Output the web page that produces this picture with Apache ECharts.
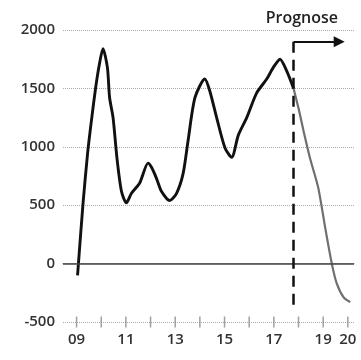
<!DOCTYPE html>
<html><head><meta charset="utf-8">
<script src="https://cdn.jsdelivr.net/npm/echarts@6/dist/echarts.min.js"></script>
<style>html,body{margin:0;padding:0;background:#fff}#c{width:361px;height:360px}</style>
</head><body><div id="c"></div>
<script>
// Year positions (x) and values (y)
const histX = [9.04, 9.26, 9.45, 9.6, 9.77, 9.92, 10.07, 10.25, 10.34, 10.48, 10.64, 10.82, 11.02, 11.22, 11.56, 11.9, 12.05, 12.24, 12.44, 12.78, 13.05, 13.32, 13.52, 13.8, 14.2, 14.4, 14.68, 15.02, 15.29, 15.56, 15.9, 16.3, 16.71, 16.98, 17.25, 17.52, 17.8];
const histY = [-100, 510, 950, 1220, 1500, 1700, 1840, 1680, 1420, 1250, 900, 620, 520, 600, 690, 860, 820, 730, 620, 540, 600, 770, 1050, 1420, 1580, 1480, 1250, 990, 910, 1100, 1250, 1460, 1580, 1680, 1750, 1650, 1500];
const forecastX = [17.8, 18.0, 18.2, 18.47, 18.8, 19.08, 19.35, 19.55, 19.83, 20.1];
const forecastY = [1500, 1330, 1140, 900, 650, 310, 0, -170, -290, -330];
const tickYears = [9, 10, 11, 12, 13, 14, 15, 16, 17, 18, 19, 20];
const labelYears = [9, 11, 13, 15, 17, 19, 20];
const forecastStart = 17.8;
const forecastLabel = 'Prognose';

const zip = (xs, ys) => xs.map((x, i) => [x, ys[i]]);
const font = 'Open Sans';
const chart = echarts.init(document.getElementById('c'), null, {renderer: 'canvas'});
chart.setOption({
  animation: false,
  backgroundColor: '#fff',
  title: {text: forecastLabel, right: 18, top: 5, textStyle: {fontFamily: font, fontSize: 16, fontWeight: 600, color: '#222'}},
  grid: {left: 63, right: 7, top: 30, bottom: 38, containLabel: false},
  xAxis: {
    type: 'value', min: 8.45, max: 20.25,
    axisLine: {show: true, lineStyle: {color: '#999', type: 'dotted', width: 1}},
    axisTick: {show: false},
    axisLabel: {customValues: labelYears, formatter: v => String(v).padStart(2, '0'), margin: 10, fontFamily: font, fontSize: 15, fontWeight: 600, color: '#333'},
    splitLine: {show: false}
  },
  yAxis: {
    type: 'value', min: -500, max: 2000, interval: 500,
    axisLine: {show: false}, axisTick: {show: false},
    axisLabel: {margin: 8, formatter: v => String(v), fontFamily: font, fontSize: 15, fontWeight: 600, color: '#333'},
    splitLine: {show: true, lineStyle: {color: '#aaa', type: 'dotted', width: 1}}
  },
  series: [
    {
      type: 'scatter', silent: true, data: tickYears.map(y => [y, -500]),
      symbol: 'rect', symbolSize: [1.5, 11], itemStyle: {color: '#888'}, z: 1
    },
    {
      type: 'line', data: zip(histX, histY), smooth: 0.25, showSymbol: false,
      lineStyle: {color: '#111', width: 2.9},
      markLine: {
        silent: true, symbol: ['none', 'none'], label: {show: false},
        data: [
          [{coord: [8.45, 0], lineStyle: {color: '#444', type: 'solid', width: 1.5}}, {coord: [20.25, 0]}],
          [{coord: [forecastStart, 1900], lineStyle: {color: '#111', type: [11, 7], width: 2.5}}, {coord: [forecastStart, -400]}],
          [{coord: [forecastStart, 1900], lineStyle: {color: '#111', type: 'solid', width: 2.2}, symbol: 'none'}, {coord: [19.65, 1900], symbol: 'triangle', symbolSize: [11, 11], symbolRotate: -90}]
        ]
      }
    },
    {
      type: 'line', data: zip(forecastX, forecastY), smooth: 0.25, showSymbol: false,
      lineStyle: {color: '#6f6f6f', width: 2.2}
    }
  ]
});
</script></body></html>
